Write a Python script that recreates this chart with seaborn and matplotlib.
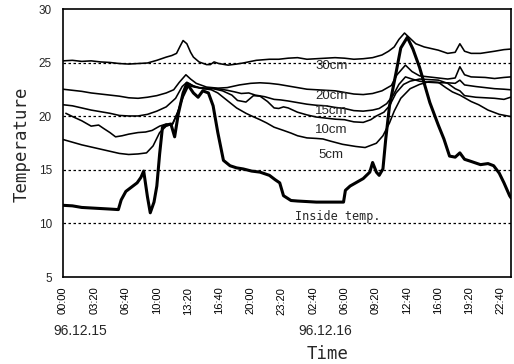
# Libraries
import pandas as pd
import seaborn as sns
import matplotlib.pyplot as plt

# Data (hours from 96.12.15 00:00, temperature in deg C)
h30 = [0, 1, 2, 3, 4, 5, 6, 7, 8, 9, 10, 10.5, 11, 11.6, 12.1, 12.5, 12.8, 13.2, 13.6, 13.9,
       14.5, 15.3, 15.7, 16.1, 16.6, 17.6, 18.5, 19.2, 20.6, 22, 23, 24, 25, 26, 27, 28, 29,
       30, 31, 32, 33, 34, 34.7, 35.3, 35.8, 36.4, 37, 37.6, 38.5, 40, 41, 41.8, 42.3, 42.8,
       43.5, 44.5, 46, 47, 47.7]
t30 = [25.2, 25.25, 25.15, 25.2, 25.1, 25.05, 24.95, 24.9, 24.95, 25.0, 25.25, 25.4, 25.55,
       25.7, 25.9, 26.6, 27.1, 26.8, 26.0, 25.55, 25.1, 24.85, 24.85, 25.1, 24.95, 24.8, 24.9,
       25.0, 25.25, 25.35, 25.35, 25.45, 25.5, 25.35, 25.4, 25.45, 25.5, 25.45, 25.35, 25.4,
       25.5, 25.75, 26.1, 26.5, 27.2, 27.8, 27.3, 26.8, 26.5, 26.2, 25.9, 26.0, 26.8, 26.1,
       25.9, 25.9, 26.1, 26.25, 26.3]

h20 = [0, 1, 2, 3, 4, 5, 6, 7, 8, 9, 10, 11, 11.8, 12.4, 13.1, 13.6, 14.2, 15.3, 16.5, 17.5,
       18.8, 20, 21, 22, 23, 24, 25, 26, 27, 28, 29, 30, 31, 32, 33, 34, 35, 35.6, 36.5, 37.2,
       38, 39, 40, 41, 41.8, 42.3, 42.8, 43.5, 45, 46, 47, 47.7]
t20 = [22.55, 22.45, 22.35, 22.2, 22.1, 22.0, 21.9, 21.75, 21.7, 21.8, 21.95, 22.2, 22.5,
       23.2, 23.9, 23.5, 23.1, 22.75, 22.65, 22.7, 22.95, 23.1, 23.15, 23.1, 23.0, 22.85,
       22.7, 22.55, 22.5, 22.45, 22.4, 22.25, 22.1, 22.05, 22.15, 22.4, 22.9, 23.9, 24.8,
       24.2, 23.8, 23.7, 23.6, 23.5, 23.6, 24.65, 23.9, 23.7, 23.65, 23.55, 23.65, 23.7]

h15 = [0, 1, 2, 3, 4, 5, 6, 7, 8, 9, 10, 11, 12, 12.7, 13.2, 13.8, 14.5, 15.5, 16.5, 17.5,
       18.3, 19, 19.8, 20.5, 21.5, 22.5, 23.2, 24, 25, 26, 27, 28, 29, 30, 31, 32, 33, 33.7,
       34.5, 35.2, 35.8, 36.5, 37.2, 38, 39, 40, 41, 41.8, 42.3, 42.8, 44, 45, 46, 47, 47.7]
t15 = [21.1, 21.0, 20.8, 20.6, 20.45, 20.3, 20.1, 20.05, 20.05, 20.2, 20.5, 20.9, 21.7,
       22.8, 23.2, 22.9, 22.7, 22.65, 22.6, 22.45, 22.3, 22.15, 22.2, 22.0, 21.85, 21.6,
       21.55, 21.45, 21.3, 21.15, 21.05, 21.0, 20.85, 20.75, 20.55, 20.5, 20.6, 20.75, 21.2,
       22.0, 23.0, 23.7, 23.5, 23.3, 23.2, 23.15, 23.15, 23.1, 23.4, 22.95, 22.8, 22.7,
       22.6, 22.55, 22.5]

h10 = [0.3, 1, 2, 3, 3.8, 4.3, 5, 5.6, 6.3, 7, 8, 8.8, 9.5, 10.3, 11, 11.6, 12.2, 12.8,
       13.4, 14, 15, 16, 17, 18, 18.6, 19.5, 20.3, 21, 21.8, 22.5, 23, 23.5, 24, 25, 26, 27,
       28, 29, 30, 31, 32, 32.8, 33.4, 34.2, 34.8, 35.5, 36.3, 37, 38, 39, 40, 41, 41.8,
       42.3, 42.8, 44, 45, 46, 47, 47.7]
t10 = [20.3, 20.0, 19.6, 19.1, 19.2, 18.9, 18.5, 18.1, 18.2, 18.35, 18.5, 18.55, 18.7,
       19.1, 19.3, 19.2, 20.3, 21.8, 22.9, 22.75, 22.6, 22.6, 22.4, 22.0, 21.5, 21.35,
       21.95, 21.9, 21.4, 20.8, 20.75, 20.9, 20.8, 20.4, 20.15, 19.95, 19.85, 19.75, 19.7,
       19.5, 19.45, 19.7, 20.05, 20.4, 21.0, 22.2, 23.0, 23.3, 23.5, 23.45, 23.4, 23.1,
       22.6, 22.4, 21.95, 21.8, 21.75, 21.7, 21.6, 21.8]

h05 = [0, 1, 2, 3, 4, 5, 6, 7, 8, 8.9, 9.6, 10.3, 11, 11.7, 12.3, 12.9, 13.4, 14, 15, 15.8,
       16.5, 17.5, 18.5, 19.5, 20.1, 21, 21.7, 22.5, 23.5, 24.3, 25, 26, 27, 27.7, 28.5,
       29.8, 31.2, 32.2, 33.4, 34.1, 34.8, 35.3, 36, 37, 38, 39, 40, 40.8, 41.5, 42.3,
       42.8, 43.5, 44.3, 45.3, 46.5, 47.7]
t05 = [17.85, 17.6, 17.35, 17.15, 16.95, 16.75, 16.55, 16.45, 16.5, 16.6, 17.25, 18.5,
       19.1, 19.3, 20.6, 22.3, 23.1, 22.8, 22.6, 22.5, 22.2, 21.5, 20.8, 20.3, 20.05, 19.7,
       19.4, 19.0, 18.7, 18.45, 18.2, 18.0, 17.95, 17.9, 17.7, 17.4, 17.2, 17.1, 17.5, 18.2,
       19.4, 20.5, 21.7, 22.6, 23.0, 23.25, 23.2, 22.7, 22.3, 22.0, 21.75, 21.4, 21.1, 20.6,
       20.2, 20.0]

h_in = [0, 1, 2, 3, 4, 5, 5.9, 6.2, 6.7, 7.3, 7.9, 8.3, 8.6, 9.0, 9.3, 9.7, 10.0, 10.3,
        10.6, 11.0, 11.5, 11.9, 12.3, 12.8, 13.2, 13.9, 14.4, 14.9, 15.5, 16.0, 16.5, 17.1,
        17.8, 18.5, 19.2, 20.1, 21.0, 22.0, 22.6, 23.1, 23.5, 24.3, 25, 26, 27, 28, 29, 29.9,
        30.1, 30.6, 31.2, 32.0, 32.7, 33.0, 33.4, 33.7, 34.1, 34.4, 34.8, 35.5, 36.0, 36.7,
        37.3, 38.0, 38.6, 39.1, 40.0, 40.6, 41.2, 41.8, 42.3, 42.8, 43.5, 44.5, 45.3, 45.9,
        46.5, 47.0, 47.6, 47.75]
t_in = [11.7, 11.65, 11.5, 11.45, 11.4, 11.35, 11.3, 12.2, 13.0, 13.4, 13.8, 14.3, 14.9,
        12.5, 11.0, 12.0, 13.5, 16.5, 19.0, 19.2, 19.3, 18.1, 20.3, 22.2, 23.1, 22.2, 21.8,
        22.4, 22.2, 21.0, 18.5, 15.9, 15.4, 15.2, 15.1, 14.9, 14.8, 14.5, 14.1, 13.8, 12.6,
        12.15, 12.1, 12.05, 12.0, 12.0, 12.0, 12.0, 13.1, 13.5, 13.8, 14.2, 14.8, 15.7, 14.8,
        14.5, 15.1, 17.9, 21.0, 24.1, 26.4, 27.4, 26.3, 24.6, 22.8, 21.3, 19.2, 17.9, 16.3,
        16.2, 16.6, 16.0, 15.8, 15.5, 15.6, 15.4, 14.7, 13.8, 12.6, 12.4]

tick_labels = ['00:00', '03:20', '06:40', '10:00', '13:20', '16:40', '20:00', '23:20',
               '02:40', '06:00', '09:20', '12:40', '16:00', '19:20', '22:40']
depth_labels = ['30cm', '20cm', '15cm', '10cm', '5cm']

soil = [(h30, t30), (h20, t20), (h15, t15), (h10, t10), (h05, t05)]

# Plot
sns.set_theme(style='white')
plt.rcParams['font.family'] = ['Liberation Sans', 'DejaVu Sans']

fig = plt.figure(figsize=(5.14, 3.64), dpi=100)
ax = fig.add_axes([63 / 514, 1 - 277 / 364, 448 / 514, 267.5 / 364])

for y in [10, 15, 20, 25]:
    ax.axhline(y, color='black', lw=0.9, ls=(0, (2, 2)), zorder=1)

for (hh, tt), name in zip(soil, depth_labels):
    df = pd.DataFrame({'minute': [x * 60 for x in hh], 'temp': tt})
    sns.lineplot(data=df, x='minute', y='temp', color='black', lw=1.15, ax=ax,
                 estimator=None, sort=False)

df_in = pd.DataFrame({'minute': [x * 60 for x in h_in], 'temp': t_in})
sns.lineplot(data=df_in, x='minute', y='temp', color='black', lw=2.2, ax=ax,
             estimator=None, sort=False)

# curve labels
lab_y = [24.7, 21.9, 20.5, 18.7, 16.4]
for name, yy in zip(depth_labels, lab_y):
    ax.text(1715, yy, name, ha='center', va='center', fontsize=9.5)
ax.text(1760, 10.7, 'Inside temp.', ha='center', va='center', fontsize=8.5,
        family='DejaVu Sans Mono')

ax.set_xlim(0, 2865)
ax.set_ylim(5, 30)
ax.set_xticks([i * 200 for i in range(len(tick_labels))])
ax.set_xticklabels(tick_labels, rotation=90, fontsize=8)
ax.set_yticks([5, 10, 15, 20, 25, 30])
ax.set_yticklabels(['5', '10', '15', '20', '25', '30'], fontsize=8.5)
ax.tick_params(axis='x', direction='in', length=3, width=1, pad=7, colors='black')
ax.tick_params(axis='y', length=0, pad=8)
ax.set_xlabel('')
ax.set_ylabel('')
for s in ax.spines.values():
    s.set_color('black')
    s.set_linewidth(1.2)

fig.text(80 / 514, 1 - 331 / 364, '96.12.15', ha='center', va='center', fontsize=10)
fig.text(325 / 514, 1 - 331 / 364, '96.12.16', ha='center', va='center', fontsize=10)
fig.text(328 / 514, 1 - 354 / 364, 'Time', ha='center', va='center', fontsize=12.5,
         family='DejaVu Sans Mono')
fig.text(22 / 514, 1 - 144 / 364, 'Temperature', ha='center', va='center', fontsize=12.5,
         rotation=90, family='DejaVu Sans Mono')

plt.savefig('out.png', dpi=100)
